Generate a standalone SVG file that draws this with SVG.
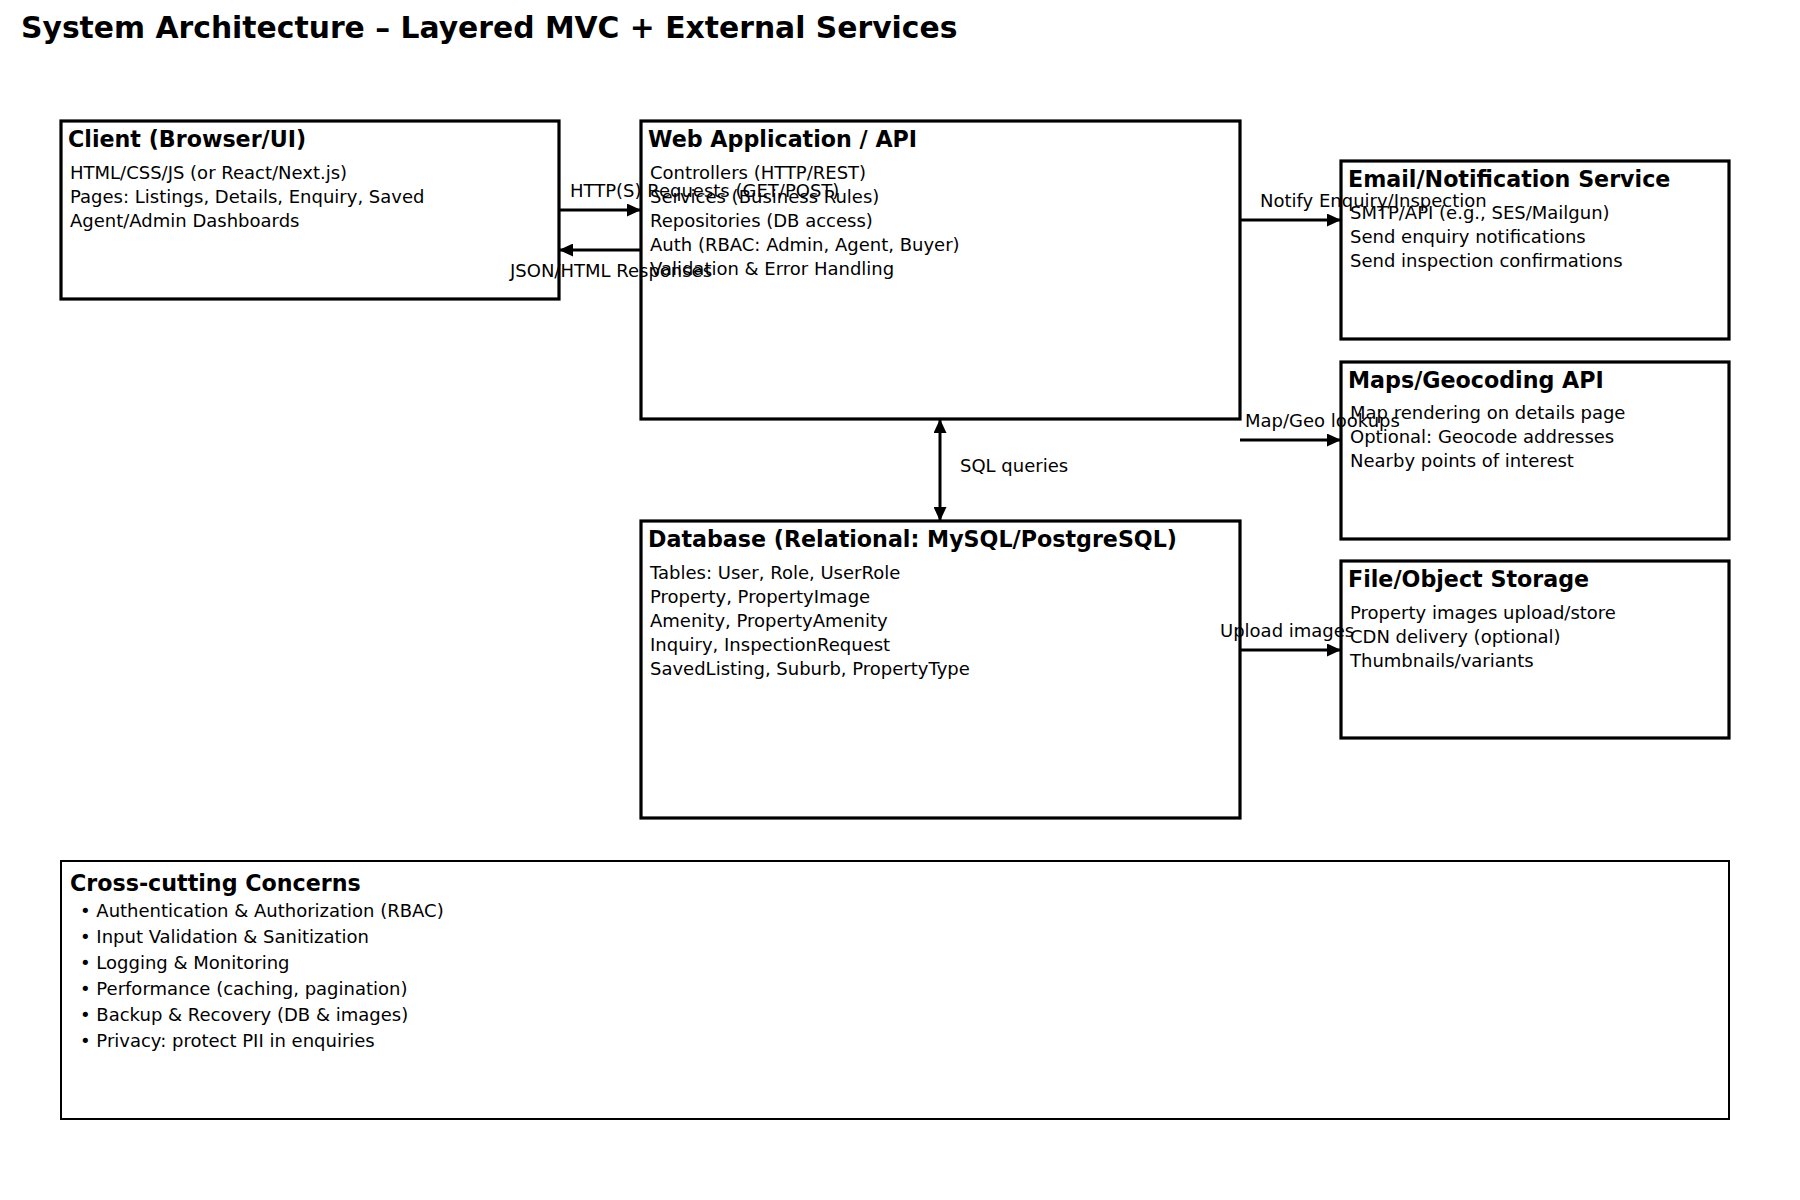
<svg xmlns="http://www.w3.org/2000/svg" width="1800" height="1200" viewBox="0 0 1800 1200">
<style>
text{font-family:"DejaVu Sans","Liberation Sans",sans-serif;fill:#000}
.title{font-size:29.8px;font-weight:bold}
.h{font-size:22.2px;font-weight:bold}
.b{font-size:18px}
.box{fill:#fff;stroke:#000;stroke-width:3.2}
.box2{fill:#fff;stroke:#000;stroke-width:2}
.c{stroke:#000;stroke-width:3;fill:none}
</style>
<defs>
<marker id="ah" viewBox="0 0 14 13" refX="14" refY="6.5" markerWidth="14" markerHeight="13" orient="auto-start-reverse" markerUnits="userSpaceOnUse"><path d="M0,0 L14,6.5 L0,13 z" fill="#000"/></marker>
</defs>
<rect width="1800" height="1200" fill="#fff"/>
<text class="title" x="21" y="38">System Architecture – Layered MVC + External Services</text>

<g id="client">
<rect class="box" x="61" y="121" width="498" height="178"/>
<text class="h" x="68" y="147">Client (Browser/UI)</text>
<text class="b" x="70" y="179">HTML/CSS/JS (or React/Next.js)</text>
<text class="b" x="70" y="203">Pages: Listings, Details, Enquiry, Saved</text>
<text class="b" x="70" y="227">Agent/Admin Dashboards</text>
</g>

<g id="webapp">
<rect class="box" x="641" y="121" width="599" height="298"/>
<text class="h" x="648" y="147">Web Application / API</text>
<text class="b" x="650" y="179">Controllers (HTTP/REST)</text>
<text class="b" x="650" y="203">Services (Business Rules)</text>
<text class="b" x="650" y="227">Repositories (DB access)</text>
<text class="b" x="650" y="251">Auth (RBAC: Admin, Agent, Buyer)</text>
<text class="b" x="650" y="275">Validation &amp; Error Handling</text>
</g>

<g id="email">
<rect class="box" x="1341" y="161" width="388" height="178"/>
<text class="h" x="1348" y="187">Email/Notification Service</text>
<text class="b" x="1350" y="219">SMTP/API (e.g., SES/Mailgun)</text>
<text class="b" x="1350" y="243">Send enquiry notifications</text>
<text class="b" x="1350" y="267">Send inspection confirmations</text>
</g>

<g id="maps">
<rect class="box" x="1341" y="362" width="388" height="177"/>
<text class="h" x="1348" y="388">Maps/Geocoding API</text>
<text class="b" x="1350" y="419">Map rendering on details page</text>
<text class="b" x="1350" y="443">Optional: Geocode addresses</text>
<text class="b" x="1350" y="467">Nearby points of interest</text>
</g>

<g id="storage">
<rect class="box" x="1341" y="561" width="388" height="177"/>
<text class="h" x="1348" y="587">File/Object Storage</text>
<text class="b" x="1350" y="619">Property images upload/store</text>
<text class="b" x="1350" y="643">CDN delivery (optional)</text>
<text class="b" x="1350" y="667">Thumbnails/variants</text>
</g>

<g id="database">
<rect class="box" x="641" y="521" width="599" height="297"/>
<text class="h" x="648" y="547">Database (Relational: MySQL/PostgreSQL)</text>
<text class="b" x="650" y="579">Tables: User, Role, UserRole</text>
<text class="b" x="650" y="603">Property, PropertyImage</text>
<text class="b" x="650" y="627">Amenity, PropertyAmenity</text>
<text class="b" x="650" y="651">Inquiry, InspectionRequest</text>
<text class="b" x="650" y="675">SavedListing, Suburb, PropertyType</text>
</g>

<g id="crosscutting">
<rect class="box2" x="61" y="861" width="1668" height="258"/>
<text class="h" x="70" y="891">Cross-cutting Concerns</text>
<text class="b" x="80" y="917">• Authentication &amp; Authorization (RBAC)</text>
<text class="b" x="80" y="943">• Input Validation &amp; Sanitization</text>
<text class="b" x="80" y="969">• Logging &amp; Monitoring</text>
<text class="b" x="80" y="995">• Performance (caching, pagination)</text>
<text class="b" x="80" y="1021">• Backup &amp; Recovery (DB &amp; images)</text>
<text class="b" x="80" y="1047">• Privacy: protect PII in enquiries</text>
</g>

<g id="connectors">
<line class="c" x1="559" y1="210" x2="641" y2="210" marker-end="url(#ah)"/>
<text class="b" x="570" y="197">HTTP(S) Requests (GET/POST)</text>
<line class="c" x1="641" y1="250" x2="559" y2="250" marker-end="url(#ah)"/>
<text class="b" x="510" y="277">JSON/HTML Responses</text>
<line class="c" x1="1240" y1="220" x2="1341" y2="220" marker-end="url(#ah)"/>
<text class="b" x="1260" y="207">Notify Enquiry/Inspection</text>
<line class="c" x1="1240" y1="440" x2="1341" y2="440" marker-end="url(#ah)"/>
<text class="b" x="1245" y="427">Map/Geo lookups</text>
<line class="c" x1="1240" y1="650" x2="1341" y2="650" marker-end="url(#ah)"/>
<text class="b" x="1220" y="637">Upload images</text>
<line class="c" x1="940" y1="419" x2="940" y2="521" marker-start="url(#ah)" marker-end="url(#ah)"/>
<text class="b" x="960" y="472">SQL queries</text>
</g>
</svg>
